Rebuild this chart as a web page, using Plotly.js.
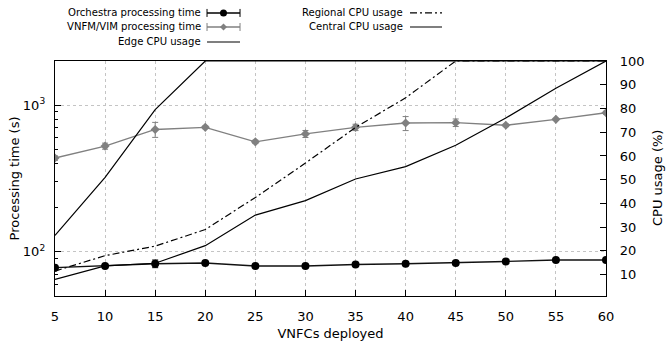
<!DOCTYPE html>
<html><head><meta charset="utf-8">
<script src="https://cdn.plot.ly/plotly-3.0.1.min.js"></script>
<style>html,body{margin:0;padding:0;background:#fff}#chart{width:666px;height:343px}</style>
</head><body><div id="chart"></div>
<script>
// ---- data ----
const vnfcs = [5, 10, 15, 20, 25, 30, 35, 40, 45, 50, 55, 60];
const orchestraTime = [78, 80, 83, 84, 80, 80, 82, 83, 84, 86, 88, 88];
const orchestraErr = [2, 2, 5, 1.5, 1.5, 1.5, 1.5, 1.5, 1.5, 1.5, 1.5, 1.5];
const vnfmTime = [436, 526, 683, 706, 562, 637, 706, 756, 760, 729, 800, 888];
const vnfmErrPlus = [15, 25, 80, 15, 15, 35, 35, 80, 45, 15, 12, 20];
const vnfmErrMinus = [15, 25, 80, 15, 15, 35, 35, 85, 45, 15, 12, 20];
const edgeCpu = [26.5, 51, 79.5, 100, 100, 100, 100, 100, 100, 100, 100, 100];
const regionalCpu = [11.5, 18, 22, 29, 42.5, 57, 72, 84.5, 100, 100, 100, 100];
const centralCpu = [8, 13.7, 14.8, 22.2, 35.1, 41.2, 50.3, 55.5, 64.5, 76, 88.5, 100];
const leftTickVals = [100, 1000];
const leftTickText = ['10<sup>2</sup>', '10<sup>3</sup>'];
const leftMinorVals = [60, 70, 80, 90, 200, 300, 400, 500, 600, 700, 800, 900, 2000];
const rightTickVals = [10, 20, 30, 40, 50, 60, 70, 80, 90, 100];
const legendLeft = ['Orchestra processing time', 'VNFM/VIM processing time', 'Edge CPU usage'];
const legendRight = ['Regional CPU usage', 'Central CPU usage'];
const rightTitle = 'CPU usage (%)';

const GRAY = '#808080';
const FONT = 'DejaVu Sans, sans-serif';
const LFONT = 'DejaVu Sans Condensed, DejaVu Sans, sans-serif';

const traces = [
  {x: vnfcs, y: orchestraTime, yaxis: 'y', mode: 'lines+markers', name: legendLeft[0],
   line: {color: '#111', width: 1.4}, marker: {symbol: 'circle', size: 8, color: '#000'},
   error_y: {type: 'data', array: orchestraErr, color: '#000', thickness: 1, width: 3}},
  {x: vnfcs, y: vnfmTime, yaxis: 'y', mode: 'lines+markers', name: legendLeft[1],
   line: {color: GRAY, width: 1.4}, marker: {symbol: 'diamond', size: 7, color: GRAY},
   error_y: {type: 'data', symmetric: false, array: vnfmErrPlus, arrayminus: vnfmErrMinus, color: GRAY, thickness: 1, width: 3}},
  {x: vnfcs, y: edgeCpu, yaxis: 'y2', mode: 'lines', name: legendLeft[2], line: {color: '#000', width: 1.2}},
  {x: vnfcs, y: regionalCpu, yaxis: 'y2', mode: 'lines', name: legendRight[0], line: {color: '#000', width: 1.2, dash: '7px,3px,2px,3px'}},
  {x: vnfcs, y: centralCpu, yaxis: 'y2', mode: 'lines', name: legendRight[1], line: {color: '#000', width: 1.2}}
];

// legend geometry (paper coords)
const W = 551, H = 235;
const rows = [1.2045, 1.1447, 1.0809];
const c1 = {t: 0.2686, a: 0.2759, b: 0.3358, m: 0.3058};
const c2 = {t: 0.6352, a: 0.6443, b: 0.7024};
const capH = 4 / H, dx = 3.5 / W, dy = 3.5 / H;
const shapes = [];
function seg(x0, y0, x1, y1, color, width, dash) {
  shapes.push({type: 'line', xref: 'paper', yref: 'paper', x0, y0, x1, y1, line: {color, width, dash: dash || 'solid'}});
}
// orchestra sample
seg(c1.a, rows[0], c1.b, rows[0], '#000', 1.4);
seg(c1.a, rows[0] - capH, c1.a, rows[0] + capH, '#000', 1);
seg(c1.b, rows[0] - capH, c1.b, rows[0] + capH, '#000', 1);
shapes.push({type: 'circle', xref: 'paper', yref: 'paper', x0: c1.m - dx, x1: c1.m + dx, y0: rows[0] - dy, y1: rows[0] + dy, fillcolor: '#000', line: {color: '#000', width: 0}});
// vnfm sample
seg(c1.a, rows[1], c1.b, rows[1], GRAY, 1.4);
seg(c1.a, rows[1] - capH, c1.a, rows[1] + capH, GRAY, 1);
seg(c1.b, rows[1] - capH, c1.b, rows[1] + capH, GRAY, 1);
shapes.push({type: 'path', xref: 'paper', yref: 'paper',
  path: `M ${c1.m - dx} ${rows[1]} L ${c1.m} ${rows[1] + dy} L ${c1.m + dx} ${rows[1]} L ${c1.m} ${rows[1] - dy} Z`,
  fillcolor: GRAY, line: {color: GRAY, width: 0}});
// edge sample
seg(c1.a, rows[2], c1.b, rows[2], '#000', 1.2);
// regional, central samples
seg(c2.a, rows[0], c2.b, rows[0], '#000', 1.2, '7px,3px,2px,3px');
seg(c2.a, rows[1], c2.b, rows[1], '#000', 1.2);

const annotations = [];
legendLeft.forEach((t, i) => annotations.push({xref: 'paper', yref: 'paper', x: c1.t, y: rows[i], xanchor: 'right', yanchor: 'middle', text: t, showarrow: false, font: {family: LFONT, size: 11.2, color: '#000'}}));
legendRight.forEach((t, i) => annotations.push({xref: 'paper', yref: 'paper', x: c2.t, y: rows[i], xanchor: 'right', yanchor: 'middle', text: t, showarrow: false, font: {family: LFONT, size: 11.2, color: '#000'}}));
// right axis title, near the right edge as in the reference
annotations.push({xref: 'paper', yref: 'paper', x: 1.0935, y: 0.5, xanchor: 'center', yanchor: 'middle', textangle: -90,
  text: rightTitle, showarrow: false, font: {family: FONT, size: 13, color: '#000'}});

const layout = {
  width: 666, height: 343,
  margin: {l: 55, r: 60, t: 61, b: 47, pad: 0},
  paper_bgcolor: '#fff', plot_bgcolor: '#fff',
  showlegend: false,
  font: {family: FONT, size: 13, color: '#000'},
  xaxis: {range: [5, 60], tickvals: vnfcs, ticks: 'inside', ticklen: 6, tickcolor: '#000',
    showline: true, mirror: true, linecolor: '#000', linewidth: 1.2,
    showgrid: true, gridcolor: '#c4c4c4', griddash: 'dot', gridwidth: 1, zeroline: false,
    ticklabelstandoff: 8,
    title: {text: 'VNFCs deployed', font: {size: 13}, standoff: 6}},
  yaxis: {type: 'log', range: [Math.log10(50), Math.log10(2000)], tickvals: leftTickVals, ticktext: leftTickText,
    ticks: 'inside', ticklen: 6, tickcolor: '#000',
    minor: {tickvals: leftMinorVals, ticks: 'inside', ticklen: 3, tickcolor: '#000', showgrid: false},
    showline: true, linecolor: '#000', linewidth: 1.2,
    showgrid: true, gridcolor: '#c4c4c4', griddash: 'dot', zeroline: false,
    ticklabelstandoff: 6,
    title: {text: 'Processing time (s)', font: {size: 13}, standoff: 0}},
  yaxis2: {overlaying: 'y', side: 'right', range: [1, 100], tickvals: rightTickVals,
    ticks: 'inside', ticklen: 6, tickcolor: '#000',
    showline: true, linecolor: '#000', linewidth: 1.2, showgrid: false, zeroline: false,
    ticklabelstandoff: 10},
  shapes, annotations
};
Plotly.newPlot('chart', traces, layout, {displayModeBar: false, staticPlot: true});
</script></body></html>
